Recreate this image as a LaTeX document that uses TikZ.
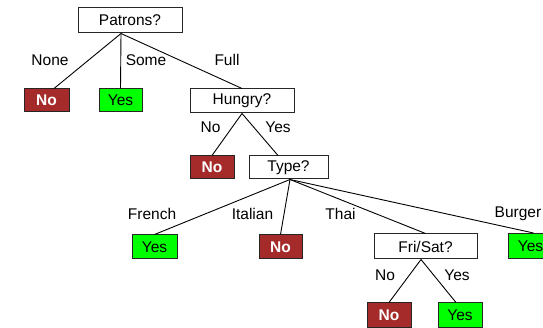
\documentclass[tikz,border=0pt]{standalone}
\usepackage{fontspec}
\setmainfont{Liberation Sans}
\usetikzlibrary{calc}
\definecolor{nored}{HTML}{A52A2A}
\definecolor{yesgreen}{HTML}{00FF00}
\tikzset{
  box/.style={draw=black!85, line width=1pt, rectangle, inner sep=0pt, minimum height=24pt, font=\fontsize{15.5}{18}\selectfont},
  dec/.style={box, fill=white},
  nobox/.style={box, fill=nored, text=white, font=\fontsize{15.5}{18}\selectfont\bfseries, minimum width=44pt},
  yesbox/.style={box, fill=yesgreen, minimum width=44pt},
  lbl/.style={inner sep=0pt, font=\fontsize{15.5}{18}\selectfont},
  edge/.style={draw=black, line width=0.9pt}
}
\begin{document}
\begin{tikzpicture}[x=1pt,y=-1pt]
\useasboundingbox (0,0) rectangle (543,328);
\node[dec, minimum width=104pt, minimum height=25pt] (patrons) at (130,20.5) {Patrons?};
\node[nobox, minimum width=45pt, minimum height=23pt] (no1) at (46.5,100.5) {No};
\node[yesbox, minimum width=43pt, minimum height=23pt] (yes1) at (120.5,100.5) {Yes};
\node[dec, minimum width=104pt] (hungry) at (242,101) {Hungry?};
\node[nobox, minimum height=23pt] (no2) at (212,167.5) {No};
\node[dec, minimum width=79pt, minimum height=23pt] (type) at (288.5,167.5) {Type?};
\node[yesbox, minimum width=45pt] (yes2) at (154.5,247) {Yes};
\node[nobox, minimum width=43pt] (no3) at (280.5,247) {No};
\node[dec, minimum width=103pt, minimum height=25pt] (frisat) at (425.5,246.5) {Fri/Sat?};
\node[yesbox, minimum width=45pt, minimum height=25pt] (yes3) at (530.5,246) {Yes};
\node[nobox] (no4) at (389,315) {No};
\node[yesbox] (yes4) at (460,315) {Yes};

\coordinate (ps) at ($(patrons.south)+(-9,0)$);
\draw[edge] (ps) -- ($(no1.north)+(7.5,0)$);
\draw[edge] (ps) -- (yes1.north);
\draw[edge] (ps) -- (hungry.north);
\draw[edge] (hungry.south) -- (no2.north);
\draw[edge] (hungry.south) -- ($(type.north)+(-10.5,0)$);
\coordinate (ts) at ($(type.south)+(1.5,0)$);
\draw[edge] (ts) -- (yes2.north);
\draw[edge] (ts) -- (no3.north);
\draw[edge] (ts) -- (frisat.north);
\draw[edge] (ts) -- ($(yes3.north)+(3,0)$);
\coordinate (fs) at ($(frisat.south)+(-4.5,0)$);
\draw[edge] (fs) -- (no4.north);
\draw[edge] (fs) -- ($(yes4.north)+(-4,0)$);

\node[lbl] (lnone) at (50,60) {None};
\node[lbl] (lsome) at (146,60) {Some};
\node[lbl] (lfull) at (227,60) {Full};
\node[lbl] (lhno) at (210.5,127) {No};
\node[lbl] (lhyes) at (278,127) {Yes};
\node[lbl] (lfrench) at (152,214) {French};
\node[lbl] (litalian) at (252.5,214) {Italian};
\node[lbl] (lthai) at (340.5,214) {Thai};
\node[lbl] (lburger) at (518,214) {Burger};
\node[lbl] (lfno) at (385,275) {No};
\node[lbl] (lfyes) at (457,275) {Yes};
\end{tikzpicture}
\end{document}
